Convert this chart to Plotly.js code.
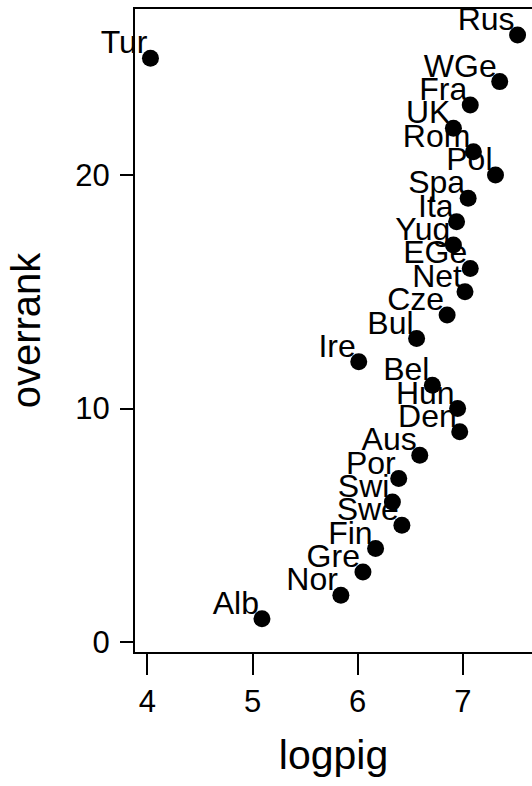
<!DOCTYPE html>
<html>
<head>
<meta charset="utf-8">
<script src="https://cdn.plot.ly/plotly-3.0.1.min.js"></script>
<style>html,body{margin:0;padding:0;background:#fff;overflow:hidden}</style>
</head>
<body>
<div id="chart" style="width:532px;height:786px"></div>
<script>
const countries = ['Rus','Tur','WGe','Fra','UK','Rom','Pol','Spa','Ita','Yug','EGe','Net','Cze','Bul','Ire','Bel','Hun','Den','Aus','Por','Swi','Swe','Fin','Gre','Nor','Alb'];
const logpig = [7.52,4.03,7.35,7.07,6.91,7.10,7.31,7.05,6.94,6.91,7.07,7.02,6.85,6.56,6.01,6.71,6.95,6.97,6.59,6.39,6.33,6.42,6.17,6.05,5.84,5.09];
const overrank = [26,25,24,23,22,21,20,19,18,17,16,15,14,13,12,11,10,9,8,7,6,5,4,3,2,1];
const xTicks = [4,5,6,7];
const yTicks = [0,10,20];

const FONT = 'Liberation Sans, Arial, sans-serif';
const X_RANGE = [3.883, 7.657];
const Y_RANGE = [-0.428, 27.11];
// label layer: same scale, nudged a few pixels left/down relative to the dots
const X_NUDGE = 0.0285, Y_NUDGE = 0.13;

const traces = [
  {
    x: logpig, y: overrank, text: countries,
    xaxis: 'x', yaxis: 'y',
    mode: 'text', type: 'scatter',
    textposition: 'top left',
    textfont: {family: FONT, size: 32, color: '#000'},
    cliponaxis: false,
    hoverinfo: 'skip', showlegend: false
  },
  {
    x: logpig, y: overrank,
    xaxis: 'x2', yaxis: 'y2',
    mode: 'markers', type: 'scatter',
    marker: {size: 17, color: '#000', line: {width: 0}},
    cliponaxis: false,
    showlegend: false
  }
];

const layout = {
  width: 532, height: 786,
  margin: {l: 135, r: 0, t: 9, b: 134, pad: 0},
  paper_bgcolor: '#fff', plot_bgcolor: '#fff',
  showlegend: false,
  xaxis: {
    range: [X_RANGE[0] + X_NUDGE, X_RANGE[1] + X_NUDGE],
    visible: false, showgrid: false, zeroline: false
  },
  yaxis: {
    range: [Y_RANGE[0] + Y_NUDGE, Y_RANGE[1] + Y_NUDGE],
    visible: false, showgrid: false, zeroline: false
  },
  xaxis2: {
    overlaying: 'x', anchor: 'y2',
    range: X_RANGE,
    tickvals: xTicks, ticktext: xTicks.map(String),
    ticks: 'outside', ticklen: 21, tickwidth: 2, tickcolor: '#000',
    showline: true, linewidth: 2, linecolor: '#000', mirror: true,
    showgrid: false, zeroline: false,
    tickfont: {family: FONT, size: 31, color: '#000'},
    title: {text: 'logpig', font: {family: FONT, size: 41, color: '#000'}, standoff: 22}
  },
  yaxis2: {
    overlaying: 'y', anchor: 'x2',
    range: Y_RANGE,
    tickvals: yTicks, ticktext: yTicks.map(String),
    ticks: 'outside', ticklen: 13, tickwidth: 2, tickcolor: '#000',
    showline: true, linewidth: 2, linecolor: '#000', mirror: false,
    showgrid: false, zeroline: false,
    ticklabelstandoff: 4,
    tickfont: {family: FONT, size: 31, color: '#000'},
    title: {text: 'overrank', font: {family: FONT, size: 40, color: '#000'}, standoff: 22}
  }
};

Plotly.newPlot('chart', traces, layout, {staticPlot: true, displayModeBar: false});
</script>
</body>
</html>
